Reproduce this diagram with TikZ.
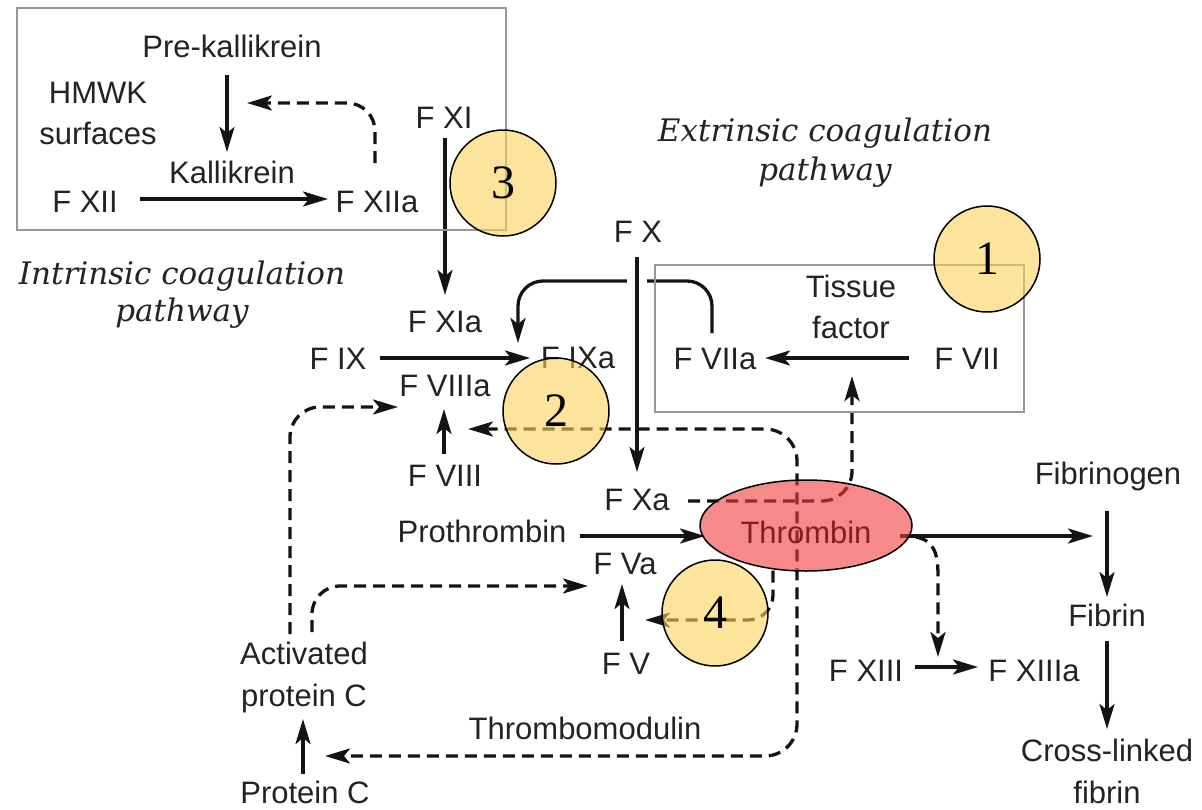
\documentclass[tikz,border=0pt]{standalone}
\usepackage{fontspec}
\setmainfont{Liberation Sans}
\newfontfamily\numfont{Liberation Serif}
\newfontfamily\pathfont{DejaVu Serif}
\usetikzlibrary{arrows.meta,calc,shapes.geometric}
\pgfdeclarelayer{lines}
\pgfsetlayers{lines,main}
\definecolor{circfill}{RGB}{250,210,90}
\definecolor{ellfill}{RGB}{240,60,60}
\definecolor{thrtext}{RGB}{135,30,30}
\definecolor{boxgray}{RGB}{150,150,150}
\definecolor{ink}{RGB}{35,35,35}
\begin{document}
\begin{tikzpicture}[x=1pt,y=-1pt,
  >={Stealth[length=25pt,width=15pt,inset=6pt]},
  lbl/.style={font=\fontsize{31}{41}\selectfont, text=ink, inner sep=0pt, anchor=base},
  mlbl/.style={font=\fontsize{31}{41}\selectfont, text=ink, inner sep=0pt, anchor=north, align=center},
  ital/.style={text=ink, inner sep=0pt, anchor=north, align=center},
  arr/.style={line width=3.3pt, draw=black!92, ->},
  darr/.style={arr, line width=3.3pt, dash pattern=on 12pt off 7pt},
  region/.style={draw=boxgray, line width=2pt},
  num/.style={circle, draw=black, line width=1.5pt, fill=circfill, fill opacity=0.6, text opacity=1, minimum size=106pt, inner sep=0pt, font=\numfont\fontsize{48}{48}\selectfont},
  thrstyle/.style={ellipse, draw=black, line width=1.5pt, fill=ellfill, fill opacity=0.6, text opacity=1, minimum width=212pt, minimum height=91pt, inner sep=0pt, text=thrtext, font=\fontsize{31}{41}\selectfont},
]
\useasboundingbox (0,0) rectangle (1202,809);
% pathway boxes
\draw[region] (17,8) rectangle (506,230);
\draw[region] (655,265) rectangle (1024,412);

% labels
\node[lbl] (prek) at (232,57) {Pre-kallikrein};
\node[mlbl] (hmwk) at (98,82) {HMWK\\surfaces};
\node[lbl] (kal) at (232,183) {Kallikrein};
\node[lbl] (fxii) at (85,212) {F XII};
\node[lbl] (fxiia) at (377,212) {F XIIa};
\node[lbl] (fxi) at (444,128) {F XI};
\node[ital, font=\pathfont\itshape\fontsize{31}{37}\selectfont] (intr) at (182,261) {Intrinsic coagulation\\pathway};
\node[ital, font=\pathfont\itshape\fontsize{31}{39}\selectfont] (extr) at (825,118) {Extrinsic coagulation\\pathway};
\node[lbl] (fxia) at (445,332) {F XIa};
\node[lbl] (fix) at (338,369) {F IX};
\node[lbl] (fixa) at (578,368) {F IXa};
\node[lbl] (fviiia) at (445,396) {F VIIIa};
\node[lbl] (fviii) at (445,486) {F VIII};
\node[lbl] (fx) at (638,242) {F X};
\node[lbl] (fviia) at (715,369) {F VIIa};
\node[lbl] (fvii) at (967,369) {F VII};
\node[mlbl] (tf) at (851,275) {Tissue\\factor};
\node[lbl] (fxa) at (637,510) {F Xa};
\node[lbl] (proth) at (482,542) {Prothrombin};
\node[lbl] (fva) at (625,574) {F Va};
\node[lbl] (fv) at (626,674) {F V};
\node[mlbl, font=\fontsize{31}{42}\selectfont] (apc) at (304,642) {Activated\\protein C};
\node[lbl] (pc) at (305,803) {Protein C};
\node[lbl] (tm) at (585,739) {Thrombomodulin};
\node[lbl] (fbg) at (1108,484) {Fibrinogen};
\node[lbl] (fbn) at (1107,626) {Fibrin};
\node[mlbl, font=\fontsize{31}{42}\selectfont] (clf) at (1107,739) {Cross-linked\\fibrin};
\node[lbl] (fxiii) at (866,681) {F XIII};
\node[lbl] (fxiiia) at (1034,681) {F XIIIa};

% thrombin and numbered markers
\node[thrstyle] (thr) at (806,525.5) {\smash{\raisebox{-17.5pt}{Thrombin}}};
\node[num] (c3) at (503,183) {3};
\node[num] (c1) at (987,259) {1};
\node[num] (c2) at (556,411) {2};
\node[num] (c4) at (715,613) {4};

\begin{pgfonlayer}{lines}
% intrinsic box
\draw[arr] ($(prek.base)+(-5,18)$) -- ($(kal.base)+(-5,-31)$);
\draw[arr] ($(fxii.base)+(55,-13)$) -- ($(fxiia.base)+(-49,-13)$);
\draw[darr, rounded corners=28pt] ($(fxiia.base)+(-2,-49)$) |- ($(prek.base)+(15,46)$);
\draw[arr] ($(fxi.base)+(1,10)$) -- ($(fxia.base)+(0,-37)$);
\draw[arr] ($(fix.base)+(42,-11)$) -- ($(fixa.base)+(-48,-10)$);
% F VIIa -> F IXa hook with bridge over F X arrow
\draw[arr, rounded corners=25pt] ($(fviia.base)+(-3,-36)$) -- ++(0,-52) -| ($(fixa.base)+(-60,-25)$);
\draw[white, line width=8pt] ($(fx.base)+(-11,39)$) -- ($(fx.base)+(9,39)$);
\draw[arr] ($(fx.base)+(-1,15)$) -- ($(fxa.base)+(0,-38)$);
\draw[arr] ($(fvii.base)+(-58,-11)$) -- ($(fviia.base)+(50,-11)$);
\draw[arr] ($(fviii.base)+(-1,-32)$) -- ($(fviiia.base)+(-1,13)$);
% F Xa -> tissue factor
\draw[darr, rounded corners=30pt] ($(fxa.base)+(51,-9)$) -| ($(tf.south)+(1,37)$);
% prothrombin -> thrombin -> fibrin
\draw[arr] ($(proth.base)+(98,-6)$) -- ($(thr.center)+(-101,10.5)$);
\draw[arr] ($(thr.center)+(94,10.5)$) -- ($(fbg.base)+(-15,52)$);
\draw[arr] ($(fbg.base)+(-1,27)$) -- ($(fbn.base)+(0,-29)$);
\draw[arr] ($(fbn.base)+(0,15)$) -- ($(clf.north)+(0,-10)$);
% thrombin -> F XIII
\draw[darr] ($(thr.center)+(110,11.5)$) .. controls ($(thr.center)+(128,15)$) and ($(thr.center)+(132,28)$) .. ($(thr.center)+(132,50)$) -- ($(fxiii.base)+(72,-24)$);
\draw[arr] ($(fxiii.base)+(49,-14)$) -- ($(fxiiia.base)+(-56,-14)$);
% thrombin -> F VIII and -> protein C (thrombomodulin)
\draw[darr, <->, rounded corners=32pt] ($(fviiia.base)+(23,33)$) -| ($(thr.center)+(-9,0)$) |- ($(pc.base)+(20,-47)$);
% activated protein C
\draw[darr, rounded corners=30pt] ($(apc.north)+(-14,-8)$) |- ($(fviiia.base)+(-47,11)$);
\draw[darr, rounded corners=28pt] ($(apc.north)+(8,-10)$) |- ($(fva.base)+(-37,12)$);
\draw[arr] ($(pc.base)+(-2,-29)$) -- ($(apc.north)+(-1,77)$);
% F V
\draw[arr] ($(fv.base)+(-4,-33)$) -- ($(fva.base)+(-3,10)$);
\draw[darr, rounded corners=25pt] ($(thr.center)+(-33,45)$) |- ($(fv.base)+(19,-54)$);
\end{pgfonlayer}
\end{tikzpicture}
\end{document}
